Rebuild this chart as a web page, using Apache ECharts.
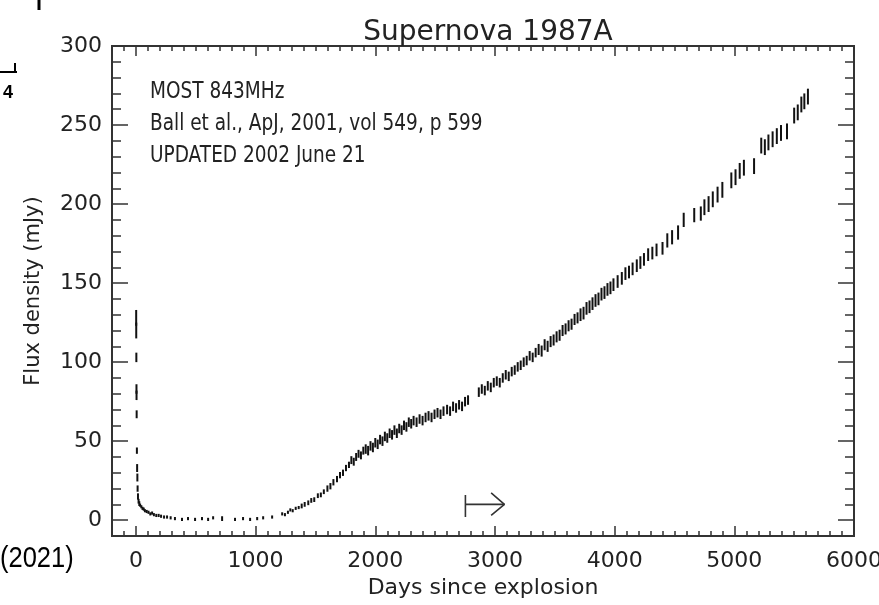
<!DOCTYPE html>
<html>
<head>
<meta charset="utf-8">
<script src="https://cdn.jsdelivr.net/npm/echarts@6/dist/echarts.min.js"></script>
<style>
html,body{margin:0;padding:0;background:#fff;}
#chart{width:879px;height:605px;}
</style>
</head>
<body>
<div id="chart"></div>
<script>
// ---- data: [day, flux density (mJy), error half-length (mJy)] ----
var spikePts = [[2,128,5],[2.5,120,5],[3.5,103,3],[4.5,83,3],[5,79,3],[6,67,2.5],[8,44,2],[10,33,2.5],[12,27,2.5],[14,20,2],[17,15,2],[22,12,1.5],[28,10.5,1.5]];
var tailPts = [[35,9.5,1],[45,8.5,1],[55,7.5,1],[65,7,1],[75,6,1],[90,5.5,1],[105,5,1],[120,4,1],[135,4.5,1],[150,3.5,1],[170,3,1],[190,3,1],[210,2.5,1],[235,2,1],[260,2,1],[290,1.5,1],[326,1,1],[385,0.5,1],[435,1,1],[494,0.5,1],[552,1,1],[603,0.5,1],[645,1.5,1],[720,1,1.5],[828,0.5,1],[895,1,1],[954,0.5,1],[1013,1,1],[1063,1.5,1],[1138,2,1]];
var risePts = [[1222,4,1],[1245,3.5,1],[1270,5,1],[1290,6.5,1],[1310,6,1],[1335,7.5,1],[1360,8,1],[1385,9,1.5],[1410,10,1.5],[1440,11,1.5],[1465,12.5,1.5],[1490,13,1.5],[1520,15.5,1.5],[1545,16,1.5],[1570,18,1.5],[1600,20,2],[1625,21.5,2],[1650,24,2],[1680,26,2],[1705,28.5,2],[1730,30,2],[1755,33,2],[1780,35,2],[1800,38,2.5],[1820,37,2.5],[1840,40,2.5],[1860,42,2.5],[1880,41,2.5],[1900,44,2.5],[1920,45,3],[1940,44,3],[1960,47,3],[1980,46,3],[2000,49,3],[2020,48,3],[2040,51,3],[2060,50,3],[2080,53,3],[2100,52,3],[2120,55,3],[2140,54,3],[2160,57,3],[2180,55,3],[2200,58,3],[2220,57,3],[2240,60,3],[2260,59,3],[2280,62,3],[2300,61,3],[2320,63,3],[2345,62,3],[2370,64,3],[2395,63,3],[2420,65,3],[2445,66,3],[2470,65,3],[2495,67,3],[2520,68,3],[2545,67,3],[2570,69,3],[2600,70,3],[2625,69,3],[2650,72,3],[2675,71,3],[2700,73,3],[2725,72,3],[2750,75,3],[2775,76,3]];
var midPts = [[2865,81,3],[2890,83,3],[2915,82,3],[2940,85,3],[2965,84,3],[2990,87,3],[3015,88,3],[3040,87,3],[3065,90,3],[3090,92,3],[3115,91,3],[3140,94,3],[3165,95,3],[3190,97,3],[3215,98,3],[3240,100,3],[3265,101,3],[3290,104,3],[3315,103,3],[3340,106,3],[3365,108,3.5],[3390,107,3.5],[3415,111,3.5],[3440,110,3.5],[3465,113,3.5],[3490,114,3.5],[3515,116,3.5],[3540,117,3.5],[3565,120,3.5],[3590,121,3.5],[3615,123,3.5],[3640,124,3.5],[3665,127,3.5],[3690,128,3.5],[3715,130,4],[3740,131,4],[3765,134,4],[3790,135,4],[3815,137,4],[3840,139,4],[3865,140,4],[3890,143,4],[3915,144,4],[3940,146,4],[3965,147,4],[3990,149,4]];
var latePts = [[4025,151,4],[4060,153,4],[4090,156,4],[4120,157,4],[4150,159,4],[4185,161,4],[4215,163,4],[4245,165,4],[4280,168,4],[4315,169,4],[4350,171,4],[4400,172,4],[4440,177,4.5],[4480,179,4.5],[4530,182,4.5],[4577,190,4.5],[4665,193,4.5],[4720,194,4.5],[4750,198,5],[4785,200,5],[4820,203,5],[4860,206,5],[4900,209,5],[4975,215,5],[5010,217,5],[5045,221,5],[5080,223,5],[5165,224,5],[5225,237,5],[5255,236,5],[5285,239,5],[5320,241,5],[5355,243,5],[5390,245,5],[5440,246,5],[5500,256,5],[5530,258,5],[5560,263,5],[5585,265,5],[5615,268,5]];

// arrow marker "|->" in data coordinates
var arrowBar = [[2753,2],[2753,16]];
var arrowShaft = [[2753,10],[3079,10]];
var arrowHead = [[2968,17.3],[3079,10],[2968,3]];

// ticks
var xMajorTicks = [0,1000,2000,3000,4000,5000,6000];
var yMajorTicks = [0,50,100,150,200,250,300];
var X_MIN = -200, X_MAX = 6000, X_MINOR = 100;
var Y_MIN = -10, Y_MAX = 300, Y_MINOR = 10;

var titleText = 'Supernova 1987A';
var xName = 'Days since explosion';
var yName = 'Flux density (mJy)';
var noteLines = ['MOST 843MHz', 'Ball et al., ApJ, 2001, vol 549, p 599', 'UPDATED 2002 June 21'];

var allPts = spikePts.concat(tailPts, risePts, midPts, latePts);

var FONT = 'DejaVu Sans';
var INK = '#222';
var AX = '#333';
function plain(v) { return String(v); }

function xAx(pos, major) {
  return {
    type: 'value', position: pos, min: X_MIN, max: X_MAX,
    interval: major ? undefined : X_MINOR,
    axisLine: {show: true, onZero: false, lineStyle: {color: AX, width: 2}},
    axisTick: major ? {show: true, inside: true, length: 10, customValues: xMajorTicks, lineStyle: {color: AX, width: 1.5}}
                    : {show: true, inside: true, length: 5, lineStyle: {color: AX, width: 1.5}},
    axisLabel: (major && pos === 'bottom') ? {show: true, customValues: xMajorTicks, formatter: plain, margin: 14, color: INK, fontFamily: FONT, fontSize: 22, showMinLabel: true, showMaxLabel: true} : {show: false},
    splitLine: {show: false},
    name: (major && pos === 'bottom') ? xName : '',
    nameLocation: 'middle', nameGap: 40,
    nameTextStyle: {color: INK, fontFamily: FONT, fontSize: 22}
  };
}
function yAx(pos, major) {
  return {
    type: 'value', position: pos, min: Y_MIN, max: Y_MAX,
    interval: major ? undefined : Y_MINOR,
    axisLine: {show: true, onZero: false, lineStyle: {color: AX, width: 2}},
    axisTick: major ? {show: true, inside: true, length: 16, customValues: yMajorTicks, lineStyle: {color: AX, width: 1.5}}
                    : {show: true, inside: true, length: 9, lineStyle: {color: AX, width: 1.5}},
    axisLabel: (major && pos === 'left') ? {show: true, customValues: yMajorTicks, formatter: plain, margin: 10, color: INK, fontFamily: FONT, fontSize: 22, showMinLabel: true, showMaxLabel: true} : {show: false},
    splitLine: {show: false},
    name: (major && pos === 'left') ? yName : '',
    nameLocation: 'middle', nameGap: 68, nameRotate: 90,
    nameTextStyle: {color: INK, fontFamily: FONT, fontSize: 21}
  };
}

var chart = echarts.init(document.getElementById('chart'), null, {renderer: 'canvas'});

var graphics = noteLines.map(function (t, i) {
  return {type: 'text', x: 150, y: 92 + i * 32, scaleY: 1.25, silent: true,
    style: {text: t, fill: INK, font: '18.5px "DejaVu Sans"', verticalAlign: 'middle', align: 'left'}};
});
graphics.push({type: 'text', x: 0, y: 559, scaleX: 0.85, silent: true,
  style: {text: '(2021)', fill: '#000', font: '30px "Liberation Sans"', verticalAlign: 'middle', align: 'left'}});
graphics.push({type: 'line', silent: true, shape: {x1: 39, y1: 0, x2: 39, y2: 10}, style: {stroke: '#000', lineWidth: 3}});
graphics.push({type: 'line', silent: true, shape: {x1: 0, y1: 72, x2: 17, y2: 72}, style: {stroke: '#000', lineWidth: 2}});
graphics.push({type: 'line', silent: true, shape: {x1: 15, y1: 63, x2: 15, y2: 72}, style: {stroke: '#000', lineWidth: 2}});
graphics.push({type: 'text', x: 3, y: 93, silent: true,
  style: {text: '4', fill: '#000', font: 'bold 18px "Liberation Sans"', verticalAlign: 'middle', align: 'left'}});

function arrowSeries(data) {
  return {type: 'line', xAxisIndex: 0, yAxisIndex: 0, data: data, symbol: 'none', silent: true,
    lineStyle: {color: '#333', width: 1.6}, z: 3};
}

chart.setOption({
  animation: false,
  backgroundColor: '#fff',
  title: {text: titleText, left: 483, top: 14, textAlign: 'center',
    textStyle: {color: INK, fontFamily: FONT, fontSize: 28, fontWeight: 'normal'}},
  grid: {left: 112, right: 25, top: 46, bottom: 69, outerBoundsMode: 'none', containLabel: false},
  xAxis: [xAx('bottom', false), xAx('bottom', true), xAx('top', false), xAx('top', true)],
  yAxis: [yAx('left', false), yAx('left', true), yAx('right', false), yAx('right', true)],
  graphic: graphics,
  series: [
    {
      type: 'custom', xAxisIndex: 0, yAxisIndex: 0, silent: true,
      data: allPts,
      encode: {x: 0, y: 1},
      renderItem: function (params, api) {
        var x = api.value(0), y = api.value(1), e = api.value(2);
        var p1 = api.coord([x, y - e]);
        var p2 = api.coord([x, y + e]);
        return {type: 'line', shape: {x1: p1[0], y1: p1[1], x2: p2[0], y2: p2[1]},
          style: {stroke: '#111', lineWidth: 2}};
      }
    },
    arrowSeries(arrowBar),
    arrowSeries(arrowShaft),
    arrowSeries(arrowHead)
  ]
});
</script>
</body>
</html>
